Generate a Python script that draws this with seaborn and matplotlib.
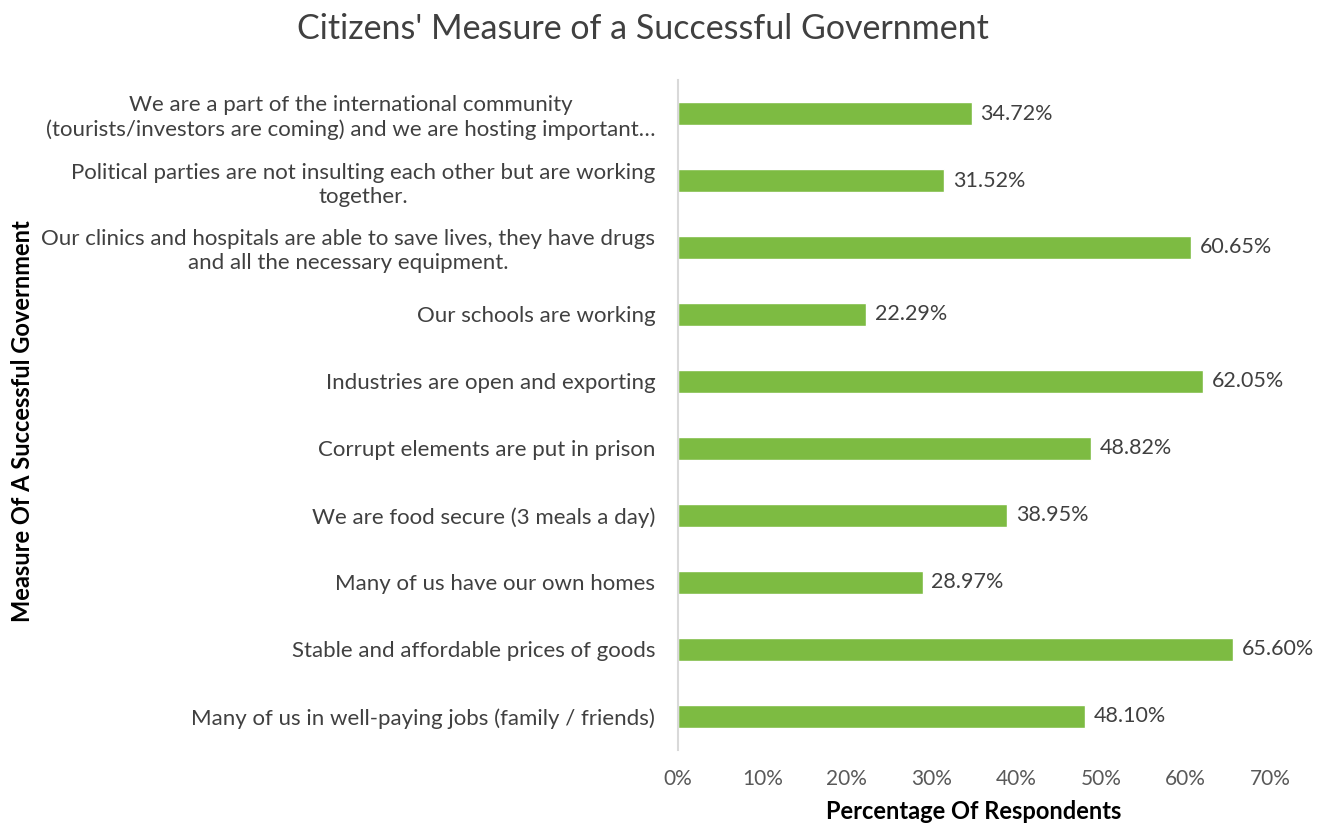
import matplotlib
matplotlib.use("Agg")
import matplotlib.pyplot as plt
import seaborn as sns
import pandas as pd

categories = [
    "We are a part of the international community\n(tourists/investors are coming) and we are hosting important\u2026",
    "Political parties are not insulting each other but are working\ntogether.",
    "Our clinics and hospitals are able to save lives, they have drugs\nand all the necessary equipment.",
    "Our schools are working",
    "Industries are open and exporting",
    "Corrupt elements are put in prison",
    "We are food secure (3 meals a day)",
    "Many of us have our own homes",
    "Stable and affordable prices of goods",
    "Many of us in well-paying jobs (family / friends)",
]
values = [34.72, 31.52, 60.65, 22.29, 62.05, 48.82, 38.95, 28.97, 65.60, 48.10]
xticks = [0, 10, 20, 30, 40, 50, 60, 70]
xtick_labels = ["0%", "10%", "20%", "30%", "40%", "50%", "60%", "70%"]

sns.set_theme(style="white")
plt.rcParams["font.family"] = ["Lato", "DejaVu Sans"]

df = pd.DataFrame({"cat": categories, "val": values})

fig = plt.figure(figsize=(13.26, 8.34), dpi=100)
ax = fig.add_axes([0.511, 0.101, 0.447, 0.803])

sns.barplot(data=df, y="cat", x="val", orient="h", color="#7DBB42",
            width=0.35, saturation=1, ax=ax)

ax.set_xlim(0, 70)
ax.set_ylim(9.5, -0.5)
ax.set_xticks(xticks)
ax.set_xticklabels(xtick_labels, fontsize=15, color="#595959")
ax.tick_params(axis="x", length=0, pad=14)
ax.tick_params(axis="y", length=0, pad=16)
for lbl in ax.get_yticklabels():
    lbl.set_fontsize(16)
    lbl.set_color("#404040")
    lbl.set_multialignment("center")
    lbl.set_linespacing(1.25)

for s in ["top", "right", "bottom"]:
    ax.spines[s].set_visible(False)
ax.spines["left"].set_color("#D9D9D9")
ax.spines["left"].set_linewidth(1.5)

for i, v in enumerate(values):
    ax.text(v + 1.0, i, f"{v:.2f}%", va="center", ha="left",
            fontsize=15.5, color="#404040")

ax.set_xlabel("Percentage Of Respondents", fontsize=17, fontweight="bold",
              color="black", labelpad=8)
ax.set_ylabel("")
fig.text(0.017, 0.495, "Measure Of A Successful Government", rotation=90,
         va="center", ha="center", fontsize=17, fontweight="bold", color="black")

fig.suptitle("Citizens' Measure of a Successful Government", fontsize=24.5,
             color="#404040", y=0.985, x=0.485)

fig.savefig("out.png", dpi=100)
